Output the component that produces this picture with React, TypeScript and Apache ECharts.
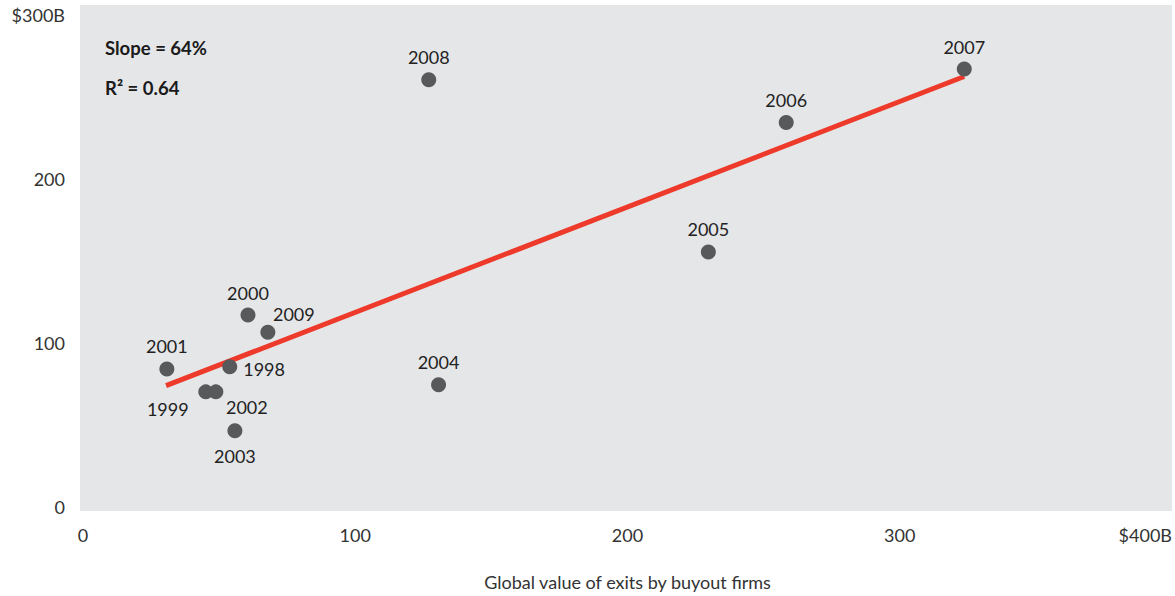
import React, { useEffect, useRef } from "react";
import * as echarts from "echarts";

const years = ["1998", "1999", "2000", "2001", "2002", "2003", "2004", "2005", "2006", "2007", "2008", "2009"];
const exitValues = [53.9, 45.1, 60.6, 30.8, 48.8, 55.8, 130.6, 229.7, 258.3, 323.7, 127, 67.9];
const buyoutValues = [85.5, 70.2, 117, 84.2, 70.2, 46.5, 74.5, 155.5, 234.5, 267, 260.5, 106.5];
const trendX = [30.5, 323.7];
const trendY = [74.0, 262.5];
const xTicks = ["0", "100", "200", "300", "$400B"];
const yTicks = ["0", "100", "200", "$300B"];
const xTitle = "Global value of exits by buyout firms";
const statLines = ["Slope = 64%", "R\u00B2 = 0.64"];

const labelPlacement: Record<string, any> = {
  "1998": { position: "right", distance: 6, offset: [0, 2] },
  "1999": { position: "bottom", offset: [-38, -4] },
  "2002": { position: "bottom", offset: [31, -6] },
  "2003": { position: "bottom", distance: 9 },
  "2009": { position: "top", offset: [26, 3] },
};

const FONT = "Lato, 'Noto Sans', sans-serif";

export default function App() {
  const ref = useRef<HTMLDivElement>(null);
  useEffect(() => {
    const chart = echarts.init(ref.current!, undefined, { renderer: "svg" });
    const points = years.map((y, i) => {
      const lp = labelPlacement[y] || { position: "top", distance: 6 };
      return {
        value: [exitValues[i], buyoutValues[i]],
        name: y,
        label: { show: true, formatter: y, ...lp },
      };
    });
    chart.setOption({
      animation: false,
      textStyle: { fontFamily: FONT },
      graphic: [
        {
          type: "rect",
          z: -10,
          shape: { x: 80, y: 5, width: 1092, height: 506 },
          style: { fill: "#e5e6e8" },
          silent: true,
        },
        {
          type: "text",
          left: 105,
          top: 38,
          style: { text: statLines[0], font: `bold 18.5px ${FONT}`, fill: "#1a1a1a" },
        },
        {
          type: "text",
          left: 105,
          top: 78,
          style: { text: statLines[1], font: `bold 18.5px ${FONT}`, fill: "#1a1a1a" },
        },
      ],
      grid: { left: 83, right: 2, top: 15, bottom: 85, containLabel: false },
      xAxis: {
        type: "value",
        min: 0,
        max: 400,
        interval: 100,
        axisLine: { show: false },
        axisTick: { show: false },
        splitLine: { show: false },
        axisLabel: {
          color: "#333",
          fontSize: 18,
          fontFamily: FONT,
          margin: 19,
          alignMaxLabel: "right",
          formatter: (v: number) => xTicks[Math.round(v / 100)],
        },
        name: xTitle,
        nameLocation: "middle",
        nameGap: 66,
        nameTextStyle: { color: "#333", fontSize: 18, fontFamily: FONT },
      },
      yAxis: {
        type: "value",
        min: 0,
        max: 300,
        interval: 100,
        axisLine: { show: false },
        axisTick: { show: false },
        splitLine: { show: false },
        axisLabel: {
          color: "#333",
          fontSize: 18,
          fontFamily: FONT,
          margin: 18,
          padding: [4, 0, 0, 0],
          formatter: (v: number) => yTicks[Math.round(v / 100)],
        },
      },
      series: [
        {
          type: "line",
          data: trendX.map((x, i) => [x, trendY[i]]),
          symbol: "none",
          lineStyle: { color: "#ee3a2b", width: 5 },
          z: 2,
          silent: true,
        },
        {
          type: "scatter",
          data: points,
          symbolSize: 15,
          itemStyle: { color: "#58595b", opacity: 1 },
          label: { color: "#222", fontSize: 18, fontFamily: FONT },
          z: 3,
        },
      ],
    });
    return () => chart.dispose();
  }, []);
  return (
    <div
      ref={ref}
      style={{ position: "fixed", left: 0, top: 0, width: 1175, height: 596, background: "#fff" }}
    />
  );
}
